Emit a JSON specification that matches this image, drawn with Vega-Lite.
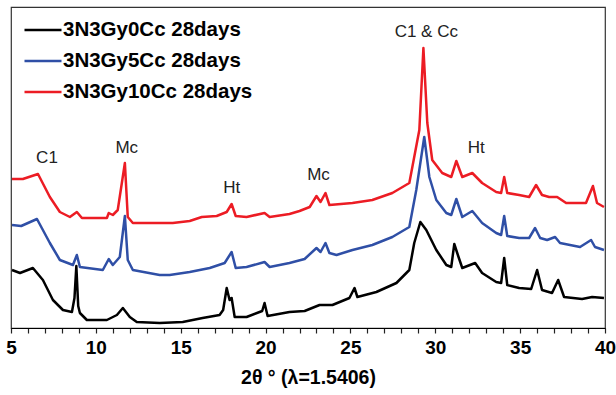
{
  "$schema": "https://vega.github.io/schema/vega-lite/v6.json",
  "autosize": {"type": "none"},
  "width": 594,
  "height": 321,
  "padding": {"left": 11, "top": 7, "right": 11, "bottom": 67},
  "config": {
    "font": "Liberation Sans",
    "view": {"stroke": "#333333", "strokeWidth": 1.2}
  },
  "encoding": {
    "x": {
      "field": "x", "type": "quantitative",
      "scale": {"domain": [5, 40], "nice": false, "zero": false},
      "axis": {
        "values": [5,6,7,8,9,10,11,12,13,14,15,16,17,18,19,20,21,22,23,24,25,26,27,28,29,30,31,32,33,34,35,36,37,38,39,40],
        "labelExpr": "datum.value % 5 === 0 ? datum.label : ''",
        "grid": false,
        "tickSize": 5,
        "tickColor": "#222222",
        "tickWidth": 1.2,
        "domainColor": "#000000",
        "domainWidth": 1.2,
        "labelFont": "Liberation Sans",
        "labelFontSize": 19,
        "labelFontWeight": "bold",
        "labelColor": "#000000",
        "labelPadding": 5,
        "labelOverlap": false,
        "labelFlush": false,
        "title": "2θ ° (λ=1.5406)",
        "titleFont": "Liberation Sans",
        "titleFontSize": 19.5,
        "titleFontWeight": "bold",
        "titleColor": "#000000",
        "titlePadding": 11
      }
    },
    "y": {
      "field": "y", "type": "quantitative",
      "scale": {"domain": [0, 321], "nice": false},
      "axis": null
    }
  },
  "layer": [
    {
      "data": {"values": [
        {"s": "3N3Gy0Cc 28days", "x": 5.06, "y": 58},
        {"s": "3N3Gy0Cc 28days", "x": 5.53, "y": 55},
        {"s": "3N3Gy0Cc 28days", "x": 6.29, "y": 60},
        {"s": "3N3Gy0Cc 28days", "x": 6.88, "y": 48},
        {"s": "3N3Gy0Cc 28days", "x": 7.47, "y": 28},
        {"s": "3N3Gy0Cc 28days", "x": 8.06, "y": 18},
        {"s": "3N3Gy0Cc 28days", "x": 8.59, "y": 16},
        {"s": "3N3Gy0Cc 28days", "x": 8.74, "y": 30},
        {"s": "3N3Gy0Cc 28days", "x": 8.85, "y": 62},
        {"s": "3N3Gy0Cc 28days", "x": 8.96, "y": 22},
        {"s": "3N3Gy0Cc 28days", "x": 9.06, "y": 15},
        {"s": "3N3Gy0Cc 28days", "x": 9.47, "y": 8},
        {"s": "3N3Gy0Cc 28days", "x": 10.65, "y": 8},
        {"s": "3N3Gy0Cc 28days", "x": 11.24, "y": 13},
        {"s": "3N3Gy0Cc 28days", "x": 11.59, "y": 20},
        {"s": "3N3Gy0Cc 28days", "x": 12.0, "y": 11},
        {"s": "3N3Gy0Cc 28days", "x": 12.41, "y": 6},
        {"s": "3N3Gy0Cc 28days", "x": 13.76, "y": 5},
        {"s": "3N3Gy0Cc 28days", "x": 15.12, "y": 6},
        {"s": "3N3Gy0Cc 28days", "x": 16.29, "y": 10},
        {"s": "3N3Gy0Cc 28days", "x": 17.29, "y": 13},
        {"s": "3N3Gy0Cc 28days", "x": 17.5, "y": 18},
        {"s": "3N3Gy0Cc 28days", "x": 17.71, "y": 40},
        {"s": "3N3Gy0Cc 28days", "x": 17.88, "y": 28},
        {"s": "3N3Gy0Cc 28days", "x": 18.0, "y": 30},
        {"s": "3N3Gy0Cc 28days", "x": 18.18, "y": 11},
        {"s": "3N3Gy0Cc 28days", "x": 18.88, "y": 11},
        {"s": "3N3Gy0Cc 28days", "x": 19.8, "y": 17},
        {"s": "3N3Gy0Cc 28days", "x": 19.94, "y": 25},
        {"s": "3N3Gy0Cc 28days", "x": 20.12, "y": 12},
        {"s": "3N3Gy0Cc 28days", "x": 21.41, "y": 16},
        {"s": "3N3Gy0Cc 28days", "x": 22.3, "y": 17},
        {"s": "3N3Gy0Cc 28days", "x": 23.18, "y": 23},
        {"s": "3N3Gy0Cc 28days", "x": 23.94, "y": 23},
        {"s": "3N3Gy0Cc 28days", "x": 24.94, "y": 30},
        {"s": "3N3Gy0Cc 28days", "x": 25.24, "y": 40},
        {"s": "3N3Gy0Cc 28days", "x": 25.41, "y": 31},
        {"s": "3N3Gy0Cc 28days", "x": 26.53, "y": 36},
        {"s": "3N3Gy0Cc 28days", "x": 27.71, "y": 45},
        {"s": "3N3Gy0Cc 28days", "x": 28.47, "y": 58},
        {"s": "3N3Gy0Cc 28days", "x": 28.76, "y": 85},
        {"s": "3N3Gy0Cc 28days", "x": 29.12, "y": 106},
        {"s": "3N3Gy0Cc 28days", "x": 29.47, "y": 98},
        {"s": "3N3Gy0Cc 28days", "x": 30.06, "y": 78},
        {"s": "3N3Gy0Cc 28days", "x": 30.65, "y": 63},
        {"s": "3N3Gy0Cc 28days", "x": 30.94, "y": 61},
        {"s": "3N3Gy0Cc 28days", "x": 31.12, "y": 84},
        {"s": "3N3Gy0Cc 28days", "x": 31.35, "y": 72},
        {"s": "3N3Gy0Cc 28days", "x": 31.59, "y": 60},
        {"s": "3N3Gy0Cc 28days", "x": 32.35, "y": 65},
        {"s": "3N3Gy0Cc 28days", "x": 32.76, "y": 55},
        {"s": "3N3Gy0Cc 28days", "x": 33.59, "y": 46},
        {"s": "3N3Gy0Cc 28days", "x": 33.88, "y": 45},
        {"s": "3N3Gy0Cc 28days", "x": 34.06, "y": 70},
        {"s": "3N3Gy0Cc 28days", "x": 34.24, "y": 43},
        {"s": "3N3Gy0Cc 28days", "x": 34.94, "y": 40},
        {"s": "3N3Gy0Cc 28days", "x": 35.65, "y": 39},
        {"s": "3N3Gy0Cc 28days", "x": 36.0, "y": 58},
        {"s": "3N3Gy0Cc 28days", "x": 36.29, "y": 38},
        {"s": "3N3Gy0Cc 28days", "x": 36.88, "y": 35},
        {"s": "3N3Gy0Cc 28days", "x": 37.24, "y": 48},
        {"s": "3N3Gy0Cc 28days", "x": 37.59, "y": 31},
        {"s": "3N3Gy0Cc 28days", "x": 38.65, "y": 29},
        {"s": "3N3Gy0Cc 28days", "x": 39.24, "y": 31},
        {"s": "3N3Gy0Cc 28days", "x": 39.94, "y": 30},

        {"s": "3N3Gy5Cc 28days", "x": 5.06, "y": 103},
        {"s": "3N3Gy5Cc 28days", "x": 5.6, "y": 102},
        {"s": "3N3Gy5Cc 28days", "x": 6.53, "y": 109},
        {"s": "3N3Gy5Cc 28days", "x": 7.29, "y": 85},
        {"s": "3N3Gy5Cc 28days", "x": 7.88, "y": 68},
        {"s": "3N3Gy5Cc 28days", "x": 8.65, "y": 63},
        {"s": "3N3Gy5Cc 28days", "x": 8.88, "y": 73},
        {"s": "3N3Gy5Cc 28days", "x": 9.06, "y": 61},
        {"s": "3N3Gy5Cc 28days", "x": 10.41, "y": 58},
        {"s": "3N3Gy5Cc 28days", "x": 10.76, "y": 69},
        {"s": "3N3Gy5Cc 28days", "x": 11.0, "y": 63},
        {"s": "3N3Gy5Cc 28days", "x": 11.41, "y": 71},
        {"s": "3N3Gy5Cc 28days", "x": 11.71, "y": 112},
        {"s": "3N3Gy5Cc 28days", "x": 11.88, "y": 68},
        {"s": "3N3Gy5Cc 28days", "x": 12.18, "y": 58},
        {"s": "3N3Gy5Cc 28days", "x": 13.76, "y": 53},
        {"s": "3N3Gy5Cc 28days", "x": 14.35, "y": 53},
        {"s": "3N3Gy5Cc 28days", "x": 15.53, "y": 56},
        {"s": "3N3Gy5Cc 28days", "x": 16.71, "y": 60},
        {"s": "3N3Gy5Cc 28days", "x": 17.59, "y": 65},
        {"s": "3N3Gy5Cc 28days", "x": 18.0, "y": 76},
        {"s": "3N3Gy5Cc 28days", "x": 18.24, "y": 60},
        {"s": "3N3Gy5Cc 28days", "x": 18.88, "y": 61},
        {"s": "3N3Gy5Cc 28days", "x": 19.94, "y": 66},
        {"s": "3N3Gy5Cc 28days", "x": 20.24, "y": 61},
        {"s": "3N3Gy5Cc 28days", "x": 21.41, "y": 65},
        {"s": "3N3Gy5Cc 28days", "x": 22.3, "y": 69},
        {"s": "3N3Gy5Cc 28days", "x": 23.0, "y": 80},
        {"s": "3N3Gy5Cc 28days", "x": 23.24, "y": 76},
        {"s": "3N3Gy5Cc 28days", "x": 23.53, "y": 85},
        {"s": "3N3Gy5Cc 28days", "x": 23.76, "y": 75},
        {"s": "3N3Gy5Cc 28days", "x": 24.18, "y": 73},
        {"s": "3N3Gy5Cc 28days", "x": 25.12, "y": 78},
        {"s": "3N3Gy5Cc 28days", "x": 26.29, "y": 83},
        {"s": "3N3Gy5Cc 28days", "x": 27.47, "y": 91},
        {"s": "3N3Gy5Cc 28days", "x": 28.47, "y": 101},
        {"s": "3N3Gy5Cc 28days", "x": 28.88, "y": 138},
        {"s": "3N3Gy5Cc 28days", "x": 29.35, "y": 191},
        {"s": "3N3Gy5Cc 28days", "x": 29.65, "y": 151},
        {"s": "3N3Gy5Cc 28days", "x": 30.06, "y": 128},
        {"s": "3N3Gy5Cc 28days", "x": 30.65, "y": 115},
        {"s": "3N3Gy5Cc 28days", "x": 30.94, "y": 113},
        {"s": "3N3Gy5Cc 28days", "x": 31.24, "y": 129},
        {"s": "3N3Gy5Cc 28days", "x": 31.59, "y": 111},
        {"s": "3N3Gy5Cc 28days", "x": 32.18, "y": 117},
        {"s": "3N3Gy5Cc 28days", "x": 32.76, "y": 105},
        {"s": "3N3Gy5Cc 28days", "x": 33.59, "y": 95},
        {"s": "3N3Gy5Cc 28days", "x": 33.88, "y": 93},
        {"s": "3N3Gy5Cc 28days", "x": 34.06, "y": 112},
        {"s": "3N3Gy5Cc 28days", "x": 34.24, "y": 92},
        {"s": "3N3Gy5Cc 28days", "x": 34.94, "y": 90},
        {"s": "3N3Gy5Cc 28days", "x": 35.53, "y": 90},
        {"s": "3N3Gy5Cc 28days", "x": 35.88, "y": 100},
        {"s": "3N3Gy5Cc 28days", "x": 36.18, "y": 90},
        {"s": "3N3Gy5Cc 28days", "x": 36.59, "y": 88},
        {"s": "3N3Gy5Cc 28days", "x": 37.06, "y": 91},
        {"s": "3N3Gy5Cc 28days", "x": 37.35, "y": 85},
        {"s": "3N3Gy5Cc 28days", "x": 38.53, "y": 81},
        {"s": "3N3Gy5Cc 28days", "x": 39.18, "y": 88},
        {"s": "3N3Gy5Cc 28days", "x": 39.41, "y": 81},
        {"s": "3N3Gy5Cc 28days", "x": 39.94, "y": 78},

        {"s": "3N3Gy10Cc 28days", "x": 5.06, "y": 149},
        {"s": "3N3Gy10Cc 28days", "x": 5.7, "y": 149},
        {"s": "3N3Gy10Cc 28days", "x": 6.59, "y": 154},
        {"s": "3N3Gy10Cc 28days", "x": 7.29, "y": 131},
        {"s": "3N3Gy10Cc 28days", "x": 7.88, "y": 116},
        {"s": "3N3Gy10Cc 28days", "x": 8.47, "y": 111},
        {"s": "3N3Gy10Cc 28days", "x": 8.88, "y": 116},
        {"s": "3N3Gy10Cc 28days", "x": 9.18, "y": 110},
        {"s": "3N3Gy10Cc 28days", "x": 10.65, "y": 110},
        {"s": "3N3Gy10Cc 28days", "x": 10.76, "y": 115},
        {"s": "3N3Gy10Cc 28days", "x": 11.0, "y": 113},
        {"s": "3N3Gy10Cc 28days", "x": 11.29, "y": 118},
        {"s": "3N3Gy10Cc 28days", "x": 11.71, "y": 165},
        {"s": "3N3Gy10Cc 28days", "x": 11.88, "y": 111},
        {"s": "3N3Gy10Cc 28days", "x": 12.18, "y": 105},
        {"s": "3N3Gy10Cc 28days", "x": 13.76, "y": 105},
        {"s": "3N3Gy10Cc 28days", "x": 14.53, "y": 105},
        {"s": "3N3Gy10Cc 28days", "x": 15.53, "y": 107},
        {"s": "3N3Gy10Cc 28days", "x": 16.24, "y": 111},
        {"s": "3N3Gy10Cc 28days", "x": 17.12, "y": 112},
        {"s": "3N3Gy10Cc 28days", "x": 17.71, "y": 116},
        {"s": "3N3Gy10Cc 28days", "x": 18.0, "y": 124},
        {"s": "3N3Gy10Cc 28days", "x": 18.24, "y": 112},
        {"s": "3N3Gy10Cc 28days", "x": 18.88, "y": 111},
        {"s": "3N3Gy10Cc 28days", "x": 19.94, "y": 115},
        {"s": "3N3Gy10Cc 28days", "x": 20.24, "y": 111},
        {"s": "3N3Gy10Cc 28days", "x": 21.41, "y": 114},
        {"s": "3N3Gy10Cc 28days", "x": 22.0, "y": 117},
        {"s": "3N3Gy10Cc 28days", "x": 22.6, "y": 121},
        {"s": "3N3Gy10Cc 28days", "x": 23.0, "y": 132},
        {"s": "3N3Gy10Cc 28days", "x": 23.24, "y": 126},
        {"s": "3N3Gy10Cc 28days", "x": 23.53, "y": 135},
        {"s": "3N3Gy10Cc 28days", "x": 23.76, "y": 123},
        {"s": "3N3Gy10Cc 28days", "x": 25.12, "y": 125},
        {"s": "3N3Gy10Cc 28days", "x": 26.29, "y": 128},
        {"s": "3N3Gy10Cc 28days", "x": 27.47, "y": 135},
        {"s": "3N3Gy10Cc 28days", "x": 28.47, "y": 145},
        {"s": "3N3Gy10Cc 28days", "x": 29.06, "y": 198},
        {"s": "3N3Gy10Cc 28days", "x": 29.3, "y": 280},
        {"s": "3N3Gy10Cc 28days", "x": 29.53, "y": 205},
        {"s": "3N3Gy10Cc 28days", "x": 29.82, "y": 168},
        {"s": "3N3Gy10Cc 28days", "x": 30.41, "y": 155},
        {"s": "3N3Gy10Cc 28days", "x": 30.94, "y": 151},
        {"s": "3N3Gy10Cc 28days", "x": 31.24, "y": 167},
        {"s": "3N3Gy10Cc 28days", "x": 31.59, "y": 151},
        {"s": "3N3Gy10Cc 28days", "x": 32.18, "y": 155},
        {"s": "3N3Gy10Cc 28days", "x": 32.76, "y": 145},
        {"s": "3N3Gy10Cc 28days", "x": 33.59, "y": 136},
        {"s": "3N3Gy10Cc 28days", "x": 33.88, "y": 135},
        {"s": "3N3Gy10Cc 28days", "x": 34.06, "y": 151},
        {"s": "3N3Gy10Cc 28days", "x": 34.24, "y": 135},
        {"s": "3N3Gy10Cc 28days", "x": 34.94, "y": 133},
        {"s": "3N3Gy10Cc 28days", "x": 35.53, "y": 131},
        {"s": "3N3Gy10Cc 28days", "x": 35.94, "y": 143},
        {"s": "3N3Gy10Cc 28days", "x": 36.29, "y": 133},
        {"s": "3N3Gy10Cc 28days", "x": 36.71, "y": 131},
        {"s": "3N3Gy10Cc 28days", "x": 37.18, "y": 131},
        {"s": "3N3Gy10Cc 28days", "x": 37.71, "y": 125},
        {"s": "3N3Gy10Cc 28days", "x": 38.88, "y": 125},
        {"s": "3N3Gy10Cc 28days", "x": 39.29, "y": 142},
        {"s": "3N3Gy10Cc 28days", "x": 39.53, "y": 125},
        {"s": "3N3Gy10Cc 28days", "x": 39.94, "y": 121}
      ]},
      "mark": {"type": "line", "strokeWidth": 2.5, "strokeJoin": "round"},
      "encoding": {
        "color": {
          "field": "s", "type": "nominal",
          "scale": {
            "domain": ["3N3Gy0Cc 28days", "3N3Gy5Cc 28days", "3N3Gy10Cc 28days"],
            "range": ["#000000", "#2f4fa6", "#ec1c24"]
          },
          "legend": {
            "orient": "none",
            "legendX": 12,
            "legendY": 3,
            "title": null,
            "padding": 0,
            "symbolType": "stroke",
            "symbolSize": 1369,
            "symbolStrokeWidth": 2.5,
            "labelFont": "Liberation Sans",
            "labelFontSize": 20.5,
            "labelFontWeight": "bold",
            "labelColor": "#000000",
            "labelOffset": 0,
            "rowPadding": -10,
            "labelLimit": 400
          }
        }
      }
    },
    {
      "data": {"values": [
        {"x": 7.12, "y": 170, "t": "C1"},
        {"x": 11.82, "y": 180, "t": "Mc"},
        {"x": 18.0, "y": 140, "t": "Ht"},
        {"x": 23.12, "y": 153, "t": "Mc"},
        {"x": 29.47, "y": 296, "t": "C1 & Cc"},
        {"x": 32.41, "y": 180, "t": "Ht"}
      ]},
      "mark": {"type": "text", "font": "Liberation Sans", "fontSize": 17, "color": "#222222", "align": "center", "baseline": "middle"},
      "encoding": {
        "text": {"field": "t", "type": "nominal"}
      }
    }
  ]
}
